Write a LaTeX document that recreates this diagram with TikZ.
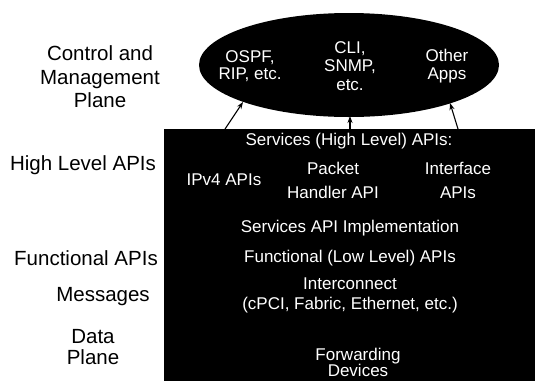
\documentclass[tikz,border=0pt]{standalone}
\usepackage{fontspec}
\setmainfont{Liberation Sans}
\usetikzlibrary{arrows.meta,shapes.geometric}
\begin{document}
\begin{tikzpicture}[x=1pt,y=-1pt,
  lbl/.style={align=center,inner sep=0pt,font=\fontsize{20.5}{23.5}\selectfont},
  intxt/.style={align=center,inner sep=0pt,text=white,font=\fontsize{17}{20}\selectfont},
  arr/.style={-{Stealth[length=7pt,width=5pt]},line width=1.1pt}]
\useasboundingbox (0,0) rectangle (535,381);
\fill[white] (0,0) rectangle (535,381);
% blocks
\node[fill=black,draw=none,minimum width=371pt,minimum height=252pt,inner sep=0pt] (dp) at (349.5,255) {};
\node[ellipse,fill=black,draw=none,minimum width=300pt,minimum height=104pt,inner sep=0pt] (cp) at (349,65) {};
% ellipse texts
\node[intxt,font=\fontsize{17}{17.5}\selectfont] (ospf) at (250,66) {OSPF,\\RIP, etc.};
\node[intxt,font=\fontsize{17}{18.5}\selectfont] (cli) at (350,66) {CLI,\\SNMP,\\etc.};
\node[intxt,font=\fontsize{17}{17.5}\selectfont] (apps) at (447,66) {Other\\Apps};
% arrows
\coordinate (s1) at (225,129); \coordinate (e1) at (243,102);
\coordinate (s2) at (350,129); \coordinate (e2) at (350,116);
\coordinate (s3) at (458,129); \coordinate (e3) at (450,103);
\draw[arr] (s1) -- (e1);
\draw[arr] (s2) -- (e2);
\draw[arr] (s3) -- (e3);
% inner texts
\node[intxt] (svc) at (349,141) {Services (High Level) APIs:};
\node[intxt] (ipv4) at (224,180) {IPv4 APIs};
\node[intxt,font=\fontsize{17}{24}\selectfont] (pkt) at (333,180) {Packet\\Handler API};
\node[intxt,font=\fontsize{17}{24}\selectfont] (intf) at (458,180) {Interface\\APIs};
\node[intxt] (impl) at (350,228) {Services API Implementation};
\node[intxt] (func) at (350,258) {Functional (Low Level) APIs};
\node[intxt] (icon) at (350,295) {Interconnect\\(cPCI, Fabric, Ethernet, etc.)};
\node[intxt,font=\fontsize{17}{16}\selectfont] (fwd) at (358,362) {Forwarding\\Devices};
% left labels
\node[lbl] (l1) at (100,77) {Control and\\Management\\Plane};
\node[lbl] (l2) at (83,165) {High Level APIs};
\node[lbl] (l3) at (86,258) {Functional APIs};
\node[lbl] (l4) at (103,297) {Messages};
\node[lbl,font=\fontsize{20.5}{21.5}\selectfont] (l5) at (93,347) {Data\\Plane};
\end{tikzpicture}
\end{document}
